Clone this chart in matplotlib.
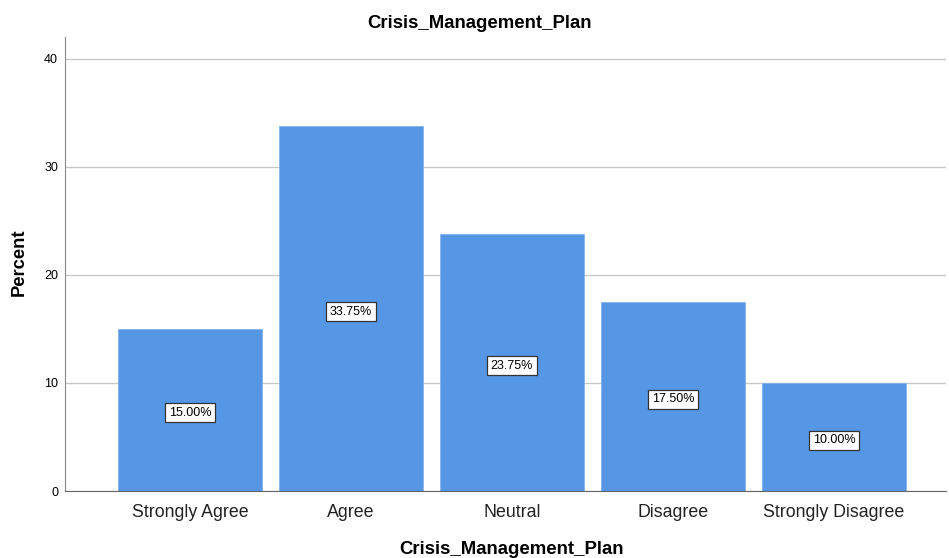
import numpy as np
import matplotlib
matplotlib.use("Agg")
import matplotlib.pyplot as plt

categories = ["Strongly Agree", "Agree", "Neutral", "Disagree", "Strongly Disagree"]
percent = [15.00, 33.75, 23.75, 17.50, 10.00]
yticks = [0, 10, 20, 30, 40]

plt.rcParams['font.family'] = ['Liberation Sans', 'DejaVu Sans']

fig = plt.figure(figsize=(9.49, 5.58), dpi=100)
ax = fig.add_axes([65/949, 1-491/558, (946-65)/949, (491-37)/558])

x = np.arange(len(categories))
ax.bar(x, percent, width=0.894, color='#5596E5', edgecolor='#7FB0EC', linewidth=0.5, zorder=2)

# value boxes sit a touch below the bar middle
for xi, v in zip(x, percent):
    ax.annotate(f"{v:.2f}%", xy=(xi, v/2), xytext=(0, -2.2), textcoords='offset points',
                ha='center', va='center', fontsize=9, color='black',
                bbox=dict(boxstyle='square,pad=0.28', facecolor='white', edgecolor='#333333', linewidth=0.9),
                zorder=3)

ax.set_xlim(-0.776, 4.696)
ax.set_ylim(0, 42)
ax.set_yticks(yticks)
ax.set_xticks(x)
ax.set_xticklabels(categories, fontsize=12.8, color='#222222')
ax.tick_params(axis='y', labelsize=9, length=0, pad=5)
ax.tick_params(axis='x', length=0, pad=9.5)
ax.yaxis.grid(True, color='#C8C8C8', linewidth=1, zorder=0)
ax.set_axisbelow(True)

for s in ['top', 'right']:
    ax.spines[s].set_visible(False)
ax.spines['left'].set_color('#888888')
ax.spines['bottom'].set_color('#666666')

ax.set_title("Crisis_Management_Plan", fontsize=13.4, fontweight='bold', pad=6.5)
ax.title.set_x(0.471)
ax.set_xlabel("Crisis_Management_Plan", fontsize=13.4, fontweight='bold', labelpad=14)
ax.xaxis.label.set_x(0.507)
ax.set_ylabel("Percent", fontsize=13.2, fontweight='bold', labelpad=12)
ax.yaxis.label.set_y(0.503)

fig.savefig("out.png", dpi=100)
